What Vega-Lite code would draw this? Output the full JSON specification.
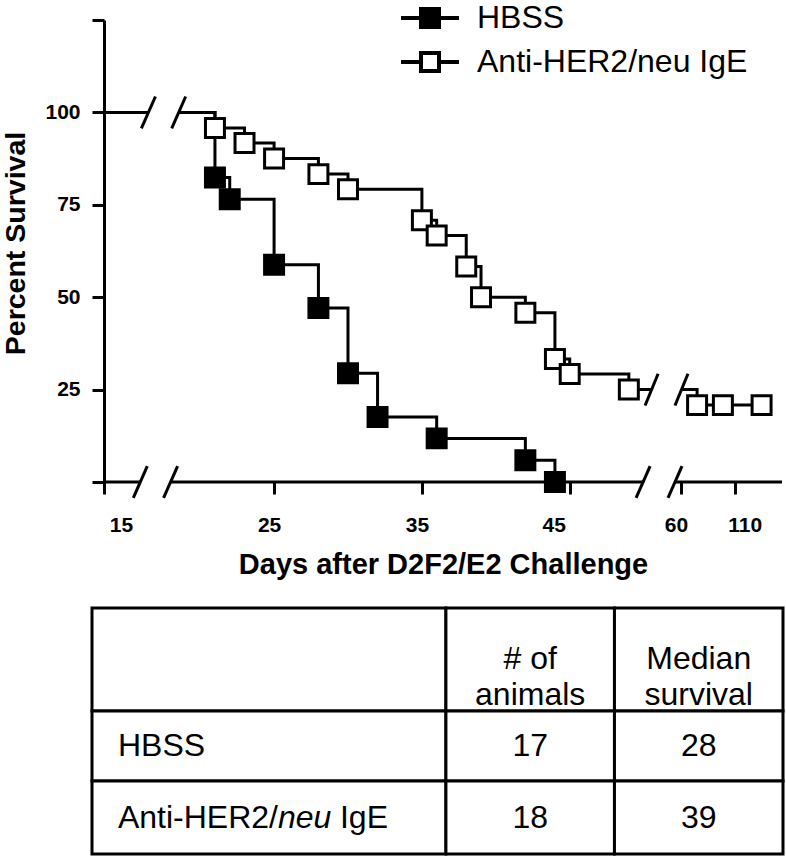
{
  "$schema": "https://vega.github.io/schema/vega-lite/v6.json",
  "width": 678,
  "height": 462,
  "autosize": {"type": "none"},
  "padding": {"left": 104, "top": 20, "right": 4, "bottom": 374},
  "config": {
    "view": {"stroke": null},
    "font": "Liberation Sans",
    "axis": {"domainColor": "black", "tickColor": "black", "labelColor": "black", "titleColor": "black", "grid": false}
  },
  "datasets": {
    "axisline": [
      {"d1": 15, "d2": 17.45},
      {"d1": 18.3, "d2": 50},
      {"d1": 54.9, "d2": 154}
    ],
    "breaks": [
      {"d1": 16.98, "d2": 17.67, "p1": -4.3, "p2": 4.3},
      {"d1": 18.11, "d2": 18.49, "p1": -4.3, "p2": 4.3},
      {"d1": 49.49, "d2": 50.44, "p1": -4.3, "p2": 4.3},
      {"d1": 53.24, "d2": 60.95, "p1": -4.3, "p2": 4.3},
      {"d1": 17.51, "d2": 17.89, "p1": 95.7, "p2": 104.3},
      {"d1": 18.33, "d2": 19.02, "p1": 95.7, "p2": 104.3},
      {"d1": 50.1, "d2": 50.98, "p1": 20.7, "p2": 29.3},
      {"d1": 54.86, "d2": 66.5, "p1": 20.7, "p2": 29.3}
    ],
    "steps": [
      {"group": "HBSS", "seg": "a", "day": 15, "pct": 100},
      {"group": "HBSS", "seg": "a", "day": 17.7, "pct": 100},
      {"group": "HBSS", "seg": "b", "day": 18.55, "pct": 100},
      {"group": "HBSS", "seg": "b", "day": 21, "pct": 82.4},
      {"group": "HBSS", "seg": "b", "day": 22, "pct": 76.5},
      {"group": "HBSS", "seg": "b", "day": 25, "pct": 58.8},
      {"group": "HBSS", "seg": "b", "day": 28, "pct": 47.1},
      {"group": "HBSS", "seg": "b", "day": 30, "pct": 29.4},
      {"group": "HBSS", "seg": "b", "day": 32, "pct": 17.6},
      {"group": "HBSS", "seg": "b", "day": 36, "pct": 11.8},
      {"group": "HBSS", "seg": "b", "day": 42, "pct": 5.9},
      {"group": "HBSS", "seg": "b", "day": 44, "pct": 0},
      {"group": "Anti-HER2/neu IgE", "seg": "a", "day": 15, "pct": 100},
      {"group": "Anti-HER2/neu IgE", "seg": "a", "day": 17.7, "pct": 100},
      {"group": "Anti-HER2/neu IgE", "seg": "b", "day": 18.55, "pct": 100},
      {"group": "Anti-HER2/neu IgE", "seg": "b", "day": 21, "pct": 95.8},
      {"group": "Anti-HER2/neu IgE", "seg": "b", "day": 23, "pct": 91.7},
      {"group": "Anti-HER2/neu IgE", "seg": "b", "day": 25, "pct": 87.5},
      {"group": "Anti-HER2/neu IgE", "seg": "b", "day": 28, "pct": 83.3},
      {"group": "Anti-HER2/neu IgE", "seg": "b", "day": 30, "pct": 79.2},
      {"group": "Anti-HER2/neu IgE", "seg": "b", "day": 35, "pct": 70.8},
      {"group": "Anti-HER2/neu IgE", "seg": "b", "day": 36, "pct": 66.7},
      {"group": "Anti-HER2/neu IgE", "seg": "b", "day": 38, "pct": 58.3},
      {"group": "Anti-HER2/neu IgE", "seg": "b", "day": 39, "pct": 50},
      {"group": "Anti-HER2/neu IgE", "seg": "b", "day": 42, "pct": 45.8},
      {"group": "Anti-HER2/neu IgE", "seg": "b", "day": 44, "pct": 33.3},
      {"group": "Anti-HER2/neu IgE", "seg": "b", "day": 45, "pct": 29.2},
      {"group": "Anti-HER2/neu IgE", "seg": "b", "day": 49, "pct": 25},
      {"group": "Anti-HER2/neu IgE", "seg": "b", "day": 50.54, "pct": 25},
      {"group": "Anti-HER2/neu IgE", "seg": "c", "day": 60.5, "pct": 25},
      {"group": "Anti-HER2/neu IgE", "seg": "c", "day": 75, "pct": 20.8},
      {"group": "Anti-HER2/neu IgE", "seg": "c", "day": 99, "pct": 20.8},
      {"group": "Anti-HER2/neu IgE", "seg": "c", "day": 135, "pct": 20.8}
    ],
    "events": [
      {"group": "Anti-HER2/neu IgE", "day": 21, "pct": 95.8},
      {"group": "Anti-HER2/neu IgE", "day": 23, "pct": 91.7},
      {"group": "Anti-HER2/neu IgE", "day": 25, "pct": 87.5},
      {"group": "Anti-HER2/neu IgE", "day": 28, "pct": 83.3},
      {"group": "Anti-HER2/neu IgE", "day": 30, "pct": 79.2},
      {"group": "Anti-HER2/neu IgE", "day": 35, "pct": 70.8},
      {"group": "Anti-HER2/neu IgE", "day": 36, "pct": 66.7},
      {"group": "Anti-HER2/neu IgE", "day": 38, "pct": 58.3},
      {"group": "Anti-HER2/neu IgE", "day": 39, "pct": 50},
      {"group": "Anti-HER2/neu IgE", "day": 42, "pct": 45.8},
      {"group": "Anti-HER2/neu IgE", "day": 44, "pct": 33.3},
      {"group": "Anti-HER2/neu IgE", "day": 45, "pct": 29.2},
      {"group": "Anti-HER2/neu IgE", "day": 49, "pct": 25},
      {"group": "Anti-HER2/neu IgE", "day": 75, "pct": 20.8},
      {"group": "Anti-HER2/neu IgE", "day": 99, "pct": 20.8},
      {"group": "Anti-HER2/neu IgE", "day": 135, "pct": 20.8},
      {"group": "HBSS", "day": 21, "pct": 82.4},
      {"group": "HBSS", "day": 22, "pct": 76.5},
      {"group": "HBSS", "day": 25, "pct": 58.8},
      {"group": "HBSS", "day": 28, "pct": 47.1},
      {"group": "HBSS", "day": 30, "pct": 29.4},
      {"group": "HBSS", "day": 32, "pct": 17.6},
      {"group": "HBSS", "day": 36, "pct": 11.8},
      {"group": "HBSS", "day": 42, "pct": 5.9},
      {"group": "HBSS", "day": 44, "pct": 0}
    ],
    "tcells": [
      {"c1": 0, "c2": 2.1, "r1": 0, "r2": 1.44},
      {"c1": 2.1, "c2": 3.1, "r1": 0, "r2": 1.44},
      {"c1": 3.1, "c2": 4.1, "r1": 0, "r2": 1.44},
      {"c1": 0, "c2": 2.1, "r1": 1.44, "r2": 2.42},
      {"c1": 2.1, "c2": 3.1, "r1": 1.44, "r2": 2.42},
      {"c1": 3.1, "c2": 4.1, "r1": 1.44, "r2": 2.42},
      {"c1": 0, "c2": 2.1, "r1": 2.42, "r2": 3.44},
      {"c1": 2.1, "c2": 3.1, "r1": 2.42, "r2": 3.44},
      {"c1": 3.1, "c2": 4.1, "r1": 2.42, "r2": 3.44}
    ],
    "theader": [
      {"c": 2.6, "r": 0.72, "t": "# of\nanimals"},
      {"c": 3.6, "r": 0.72, "t": "Median\nsurvival"}
    ],
    "tnums": [
      {"c": 2.6, "r": 1.93, "t": "17"},
      {"c": 3.6, "r": 1.93, "t": "28"},
      {"c": 2.6, "r": 2.93, "t": "18"},
      {"c": 3.6, "r": 2.93, "t": "39"}
    ],
    "tlabels": [
      {"c": 0.154, "r": 1.93, "part": "plain", "t": "HBSS"},
      {"c": 0.154, "r": 2.93, "part": "plain", "t": "Anti-HER2/"},
      {"c": 0.154, "r": 2.93, "part": "italic", "t": "neu"},
      {"c": 0.154, "r": 2.93, "part": "tail", "t": "IgE"}
    ]
  },
  "layer": [
    {
      "layer": [
        {
          "data": {"name": "axisline"},
          "mark": {"type": "rule", "strokeWidth": 3, "color": "black"},
          "encoding": {
            "x": {
              "field": "d1", "type": "quantitative", "title": "Days after D2F2/E2 Challenge",
              "scale": {"type": "linear", "domain": [15, 17.5, 18.5, 51, 55, 154], "range": [0, 37, 74, 554.4, 571.6, 678], "nice": false, "zero": false},
              "axis": {
                "values": [15, 25, 35, 45, 60, 110],
                "domain": false,
                "tickSize": 12, "tickWidth": 3,
                "labelFont": "Liberation Sans", "labelFontSize": 21, "labelFontWeight": "bold",
                "labelPadding": 20, "labelFlush": false, "labelOverlap": false,
                "labelOffset": {"expr": "datum.value == 15 ? 17 : datum.value == 45 ? -16 : datum.value == 110 ? 10 : -5"},
                "title": "Days after D2F2/E2 Challenge",
                "titleFont": "Liberation Sans", "titleFontSize": 29, "titleFontWeight": "bold",
                "titlePadding": 15
              }
            },
            "x2": {"field": "d2", "title": "Days after D2F2/E2 Challenge"},
            "y": {
              "datum": 0, "type": "quantitative", "title": "Percent Survival",
              "scale": {"domain": [0, 125], "nice": false, "zero": false},
              "axis": {
                "values": [0, 25, 50, 75, 100, 125],
                "labelExpr": "datum.value == 0 || datum.value == 125 ? '' : datum.label",
                "tickSize": 12, "tickWidth": 3, "domainWidth": 3,
                "labelFont": "Liberation Sans", "labelFontSize": 21, "labelFontWeight": "bold",
                "labelPadding": 12,
                "title": "Percent Survival",
                "titleFont": "Liberation Sans", "titleFontSize": 28.5, "titleFontWeight": "bold",
                "titlePadding": 14, "titleY": 223
              }
            }
          }
        },
        {
          "data": {"name": "breaks"},
          "mark": {"type": "rule", "strokeWidth": 3, "color": "black"},
          "encoding": {
            "x": {"field": "d1", "type": "quantitative", "title": "Days after D2F2/E2 Challenge"},
            "x2": {"field": "d2", "title": "Days after D2F2/E2 Challenge"},
            "y": {"field": "p1", "type": "quantitative", "title": "Percent Survival"},
            "y2": {"field": "p2", "title": "Percent Survival"}
          }
        },
        {
          "data": {"name": "steps"},
          "mark": {"type": "line", "interpolate": "step-after", "strokeWidth": 3, "color": "black"},
          "encoding": {
            "x": {"field": "day", "type": "quantitative", "title": "Days after D2F2/E2 Challenge"},
            "y": {"field": "pct", "type": "quantitative", "title": "Percent Survival"},
            "detail": [{"field": "group"}, {"field": "seg"}]
          }
        },
        {
          "data": {"name": "events"},
          "mark": {"type": "point", "shape": "square", "filled": true, "size": 360, "stroke": "black", "strokeWidth": 3, "opacity": 1},
          "encoding": {
            "x": {"field": "day", "type": "quantitative", "title": "Days after D2F2/E2 Challenge"},
            "y": {"field": "pct", "type": "quantitative", "title": "Percent Survival"},
            "fill": {
              "field": "group", "type": "nominal",
              "scale": {"domain": ["HBSS", "Anti-HER2/neu IgE"], "range": ["black", "white"]},
              "legend": {
                "orient": "none", "legendX": 310, "legendY": -18,
                "title": null, "padding": 0,
                "symbolType": "M-2.9,0H-0.9M0.9,0H2.9M-0.9,-0.9H0.9V0.9H-0.9Z",
                "symbolSize": 400, "symbolStrokeWidth": 4, "symbolStrokeColor": "black",
                "labelFont": "Liberation Sans", "labelFontSize": 32, "labelColor": "black",
                "labelOffset": 31, "rowPadding": 10, "labelLimit": 400
              }
            }
          }
        }
      ]
    },
    {
      "layer": [
        {
          "data": {"name": "tcells"},
          "mark": {"type": "rect", "fill": "white", "stroke": "black", "strokeWidth": 3},
          "encoding": {
            "x": {"field": "c1", "type": "quantitative", "scale": {"domain": [0, 4.1], "range": [-12, 679], "nice": false, "zero": false}, "axis": null},
            "x2": {"field": "c2"},
            "y": {"field": "r1", "type": "quantitative", "scale": {"domain": [0, 3.44], "range": [588, 834], "nice": false, "zero": false}, "axis": null},
            "y2": {"field": "r2"}
          }
        },
        {
          "data": {"name": "theader"},
          "mark": {"type": "text", "font": "Liberation Sans", "fontSize": 32, "color": "black", "align": "center", "baseline": "middle", "lineBreak": "\n", "lineHeight": 36},
          "encoding": {
            "x": {"field": "c", "type": "quantitative", "axis": null},
            "y": {"field": "r", "type": "quantitative", "axis": null},
            "text": {"field": "t"}
          }
        },
        {
          "data": {"name": "tnums"},
          "mark": {"type": "text", "font": "Liberation Sans", "fontSize": 32, "color": "black", "align": "center", "baseline": "middle"},
          "encoding": {
            "x": {"field": "c", "type": "quantitative", "axis": null},
            "y": {"field": "r", "type": "quantitative", "axis": null},
            "text": {"field": "t"}
          }
        },
        {
          "data": {"name": "tlabels"},
          "transform": [{"filter": "datum.part == 'plain'"}],
          "mark": {"type": "text", "font": "Liberation Sans", "fontSize": 32, "color": "black", "align": "left", "baseline": "middle"},
          "encoding": {
            "x": {"field": "c", "type": "quantitative", "axis": null},
            "y": {"field": "r", "type": "quantitative", "axis": null},
            "text": {"field": "t"}
          }
        },
        {
          "data": {"name": "tlabels"},
          "transform": [{"filter": "datum.part == 'italic'"}],
          "mark": {"type": "text", "font": "Liberation Sans", "fontSize": 32, "fontStyle": "italic", "color": "black", "align": "left", "baseline": "middle", "dx": 160},
          "encoding": {
            "x": {"field": "c", "type": "quantitative", "axis": null},
            "y": {"field": "r", "type": "quantitative", "axis": null},
            "text": {"field": "t"}
          }
        },
        {
          "data": {"name": "tlabels"},
          "transform": [{"filter": "datum.part == 'tail'"}],
          "mark": {"type": "text", "font": "Liberation Sans", "fontSize": 32, "color": "black", "align": "left", "baseline": "middle", "dx": 222},
          "encoding": {
            "x": {"field": "c", "type": "quantitative", "axis": null},
            "y": {"field": "r", "type": "quantitative", "axis": null},
            "text": {"field": "t"}
          }
        }
      ]
    }
  ],
  "resolve": {"scale": {"x": "independent", "y": "independent"}}
}
